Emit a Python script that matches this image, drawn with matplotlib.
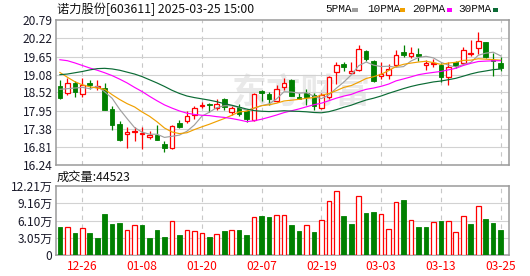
import matplotlib
matplotlib.use('Agg')
import matplotlib.pyplot as plt
import numpy as np
import pandas as pd
from matplotlib.patches import Rectangle

plt.rcParams['font.family'] = ['Noto Sans CJK SC', 'DejaVu Sans']

# ---------------- data ----------------
title = '诺力股份[603611] 2025-03-25 15:00'
vol_title = '成交量:44523'
date_labels = ['12-26', '01-08', '01-20', '02-07', '02-19', '03-03', '03-13', '03-25']
date_idx = [3, 11, 19, 27, 35, 43, 51, 59]
price_ticks = [16.24, 16.81, 17.38, 17.95, 18.52, 19.08, 19.65, 20.22, 20.79]
vol_ticks = [0, 3.05, 6.10, 9.16, 12.21]
vol_tick_labels = ['0', '3.05万', '6.10万', '9.16万', '12.21万']
ma_names = ['5PMA', '10PMA', '20PMA', '30PMA']
ma_colors = ['#a0a0a0', '#f0a000', '#ff00ff', '#0b6b35']

opens = [18.73, 18.49, 18.83, 18.47, 18.81, 18.68, 18.65, 17.99, 17.52, 17.23,
         17.28, 17.22, 17.11, 17.17, 16.90, 16.78, 17.55, 17.63, 17.80, 18.09,
         18.15, 18.04, 18.30, 17.91, 18.06, 17.95, 17.64, 18.56, 18.47, 18.26,
         18.68, 18.92, 18.37, 18.49, 18.44, 18.03, 18.39, 19.17, 19.42, 19.14,
         19.24, 19.83, 19.52, 19.04, 19.07, 19.38, 19.78, 19.67, 19.74, 19.39,
         19.42, 19.37, 19.00, 19.49, 19.44, 19.72, 19.93, 20.10, 19.55, 19.44]
highs = [18.91, 18.96, 18.87, 18.96, 18.90, 18.90, 18.81, 18.08, 17.63, 17.45,
         17.43, 17.43, 17.30, 17.49, 17.01, 17.51, 17.64, 17.93, 18.09, 18.22,
         18.18, 18.30, 18.35, 18.11, 18.16, 18.00, 18.50, 18.60, 18.53, 18.77,
         18.96, 18.94, 18.51, 18.62, 18.49, 18.49, 19.05, 19.49, 19.47, 19.47,
         20.02, 19.86, 19.55, 19.49, 19.41, 19.85, 20.00, 19.96, 19.93, 19.54,
         19.57, 19.44, 19.49, 19.52, 19.94, 20.18, 20.41, 20.10, 19.76, 19.64]
lows = [18.31, 18.44, 18.37, 18.39, 18.64, 18.61, 17.97, 17.34, 17.00, 16.78,
        16.99, 16.75, 17.06, 17.03, 16.64, 16.73, 17.41, 17.55, 17.69, 18.03,
        17.90, 17.97, 17.98, 17.82, 17.79, 17.60, 17.62, 18.25, 18.14, 18.23,
        18.60, 18.40, 18.32, 18.14, 17.98, 18.00, 18.32, 18.79, 19.21, 19.10,
        19.21, 19.52, 18.86, 18.94, 18.94, 19.33, 19.64, 19.59, 19.51, 19.24,
        19.33, 18.84, 18.77, 19.29, 19.40, 19.68, 19.73, 19.60, 19.03, 19.21]
closes = [18.35, 18.83, 18.53, 18.75, 18.74, 18.72, 17.97, 17.50, 17.03, 17.27,
          17.31, 17.26, 17.17, 17.03, 16.77, 17.48, 17.45, 17.77, 18.02, 18.14,
          18.12, 18.17, 18.06, 18.04, 17.85, 17.69, 18.47, 18.49, 18.30, 18.63,
          18.83, 18.42, 18.32, 18.37, 18.08, 18.44, 19.00, 19.38, 19.33, 19.21,
          19.89, 19.58, 18.89, 19.11, 19.26, 19.71, 19.70, 19.77, 19.66, 19.45,
          19.46, 19.02, 19.31, 19.36, 19.86, 19.77, 20.15, 19.64, 19.52, 19.28]
volumes = [4.96, 4.90, 3.89, 4.72, 3.89, 3.01, 7.26, 5.49, 5.66, 4.37,
           5.25, 5.31, 3.01, 4.42, 3.19, 5.96, 3.54, 4.37, 4.19, 3.83,
           3.19, 3.66, 4.25, 4.37, 4.42, 3.54, 6.67, 6.90, 6.72, 7.02,
           7.02, 5.31, 4.25, 5.25, 4.07, 6.13, 9.50, 11.27, 6.90, 5.55,
           10.38, 7.43, 7.61, 7.20, 4.54, 9.32, 9.73, 6.13, 4.96, 4.96,
           5.78, 6.02, 5.96, 4.01, 6.84, 5.49, 8.61, 6.37, 5.66, 4.4523]
vol_up = [0, 1, 0, 1, 0, 0, 0, 0, 0, 1,
          1, 0, 0, 0, 0, 1, 0, 1, 1, 1,
          0, 1, 0, 1, 0, 0, 1, 0, 0, 1,
          1, 0, 0, 1, 0, 1, 1, 1, 0, 0,
          1, 0, 0, 1, 1, 1, 0, 1, 0, 0,
          1, 0, 1, 1, 1, 0, 1, 0, 0, 0]
# moving-average values read where the window reaches before the chart start
ma5_head = [18.62, 18.64, 18.66, 18.68]
ma10_head = [19.15, 19.00, 18.86, 18.76, 18.70, 18.66, 18.62, 18.45, 18.30]
ma20_head = [19.55, 19.52, 19.45, 19.37, 19.29, 19.22, 19.14, 19.05, 18.94, 18.82,
             18.68, 18.55, 18.40, 18.26, 18.13, 18.03, 17.94, 17.87, 17.83]
ma30_head = [19.08, 19.10, 19.14, 19.18, 19.23, 19.27, 19.28, 19.26, 19.22, 19.16,
             19.10, 19.02, 18.92, 18.82, 18.71, 18.59, 18.49, 18.41, 18.36, 18.32,
             18.28, 18.23, 18.17, 18.12, 18.06, 18.00, 17.95, 17.93, 17.92]

# ---------------- figure ----------------
W, H = 530, 276
fig = plt.figure(figsize=(W / 100, H / 100), dpi=100)
fig.patch.set_facecolor('white')

L, R = 56, 509.3
ax = fig.add_axes([L / W, 1 - 165 / H, (R - L) / W, (165 - 20.3) / H])
axv = fig.add_axes([L / W, 1 - 255 / H, (R - L) / W, (255 - 186) / H])

n = len(closes)
x = np.arange(n)
o = np.array(opens); c = np.array(closes); h = np.array(highs); lo = np.array(lows)
up = c >= o
RED = '#ff0000'
GREEN = '#008000'
GRID = '#d2d2d2'
BORDER = '#9a9a9a'
TXT = '#1a1a2a'

xl = (-0.52, 60.16)

# watermark
ax.text(32.4, 18.54, '东方财富', fontsize=25, fontweight='bold', color='#e9e9e9',
        ha='center', va='center', zorder=0, style='italic')

for a in (ax, axv):
    a.set_xlim(*xl)
    for i in date_idx:
        a.axvline(i, color='#c8c8c8', lw=0.8, ls=(0, (4, 4)), zorder=0.5)
    for s in a.spines.values():
        s.set_color(BORDER)
        s.set_linewidth(1.1)
    a.set_xticks([])
    a.tick_params(axis='y', length=0, pad=2.5, labelsize=8.6, labelcolor=TXT)

# price grid
ax.set_ylim(16.24, 20.79)
ax.set_yticks(price_ticks)
ax.set_yticklabels([f'{t:.2f}' for t in price_ticks])
for t in price_ticks[1:-1]:
    ax.axhline(t, color=GRID, lw=0.8, zorder=0.5)

# candles
bw = 0.62
ax.vlines(x, lo, h, colors=np.where(up, RED, GREEN), lw=0.9, zorder=2)
body_bottom = np.minimum(o, c)
body_h = np.maximum(np.abs(c - o), 0.012)
ax.bar(x[up], body_h[up], bw, bottom=body_bottom[up], facecolor='white',
       edgecolor=RED, linewidth=0.9, zorder=3)
ax.bar(x[~up], body_h[~up], bw, bottom=body_bottom[~up], facecolor=GREEN,
       edgecolor=GREEN, linewidth=0.6, zorder=3)

# moving averages
cs = pd.Series(closes)
heads = [ma5_head, ma10_head, ma20_head, ma30_head]
for (win, head, col) in zip([5, 10, 20, 30], heads, ma_colors):
    ma = cs.rolling(win).mean().to_numpy()
    ma[:win - 1] = head
    ax.plot(x, ma, color=col, lw=0.85, zorder=4)

# volume
axv.set_ylim(0, 12.21)
axv.set_yticks(vol_ticks)
axv.set_yticklabels(vol_tick_labels)
for t in vol_ticks[1:-1]:
    axv.axhline(t, color=GRID, lw=0.8, zorder=0.5)
v = np.array(volumes)
vu = np.array(vol_up).astype(bool)
axv.bar(x[vu], v[vu], bw, facecolor='white', edgecolor=RED, linewidth=0.9, zorder=3)
axv.bar(x[~vu], v[~vu], bw, facecolor=GREEN, edgecolor=GREEN, linewidth=0.6, zorder=3)

# date labels under volume
for i, lab in zip(date_idx, date_labels):
    xp = L + (i - xl[0]) / (xl[1] - xl[0]) * (R - L)
    fig.text(xp / W, 1 - 266.5 / H, lab, color=RED, fontsize=8.6,
             ha='center', va='center')

# titles
fig.text(57 / W, 1 - 9.5 / H, title, fontsize=8.8, color='#111111', ha='left', va='center')
fig.text(57 / W, 1 - 177 / H, vol_title, fontsize=8.8, color='#111111', ha='left', va='center')

# legend
leg_x = [325, 367, 412, 458]
sq_x = [352, 399.5, 446.5, 492.5]
for name, lx, sx, col in zip(ma_names, leg_x, sq_x, ma_colors):
    fig.text(lx / W, 1 - 9.5 / H, name, fontsize=8.0, color='#111111', ha='left',
             va='center', family=['Liberation Mono', 'DejaVu Sans Mono'])
    fig.patches.append(Rectangle((sx / W, 1 - 11.5 / H), 5.5 / W, 3.5 / H,
                                 transform=fig.transFigure, facecolor=col,
                                 edgecolor='none'))

fig.savefig('out.png', dpi=100, facecolor='white')
